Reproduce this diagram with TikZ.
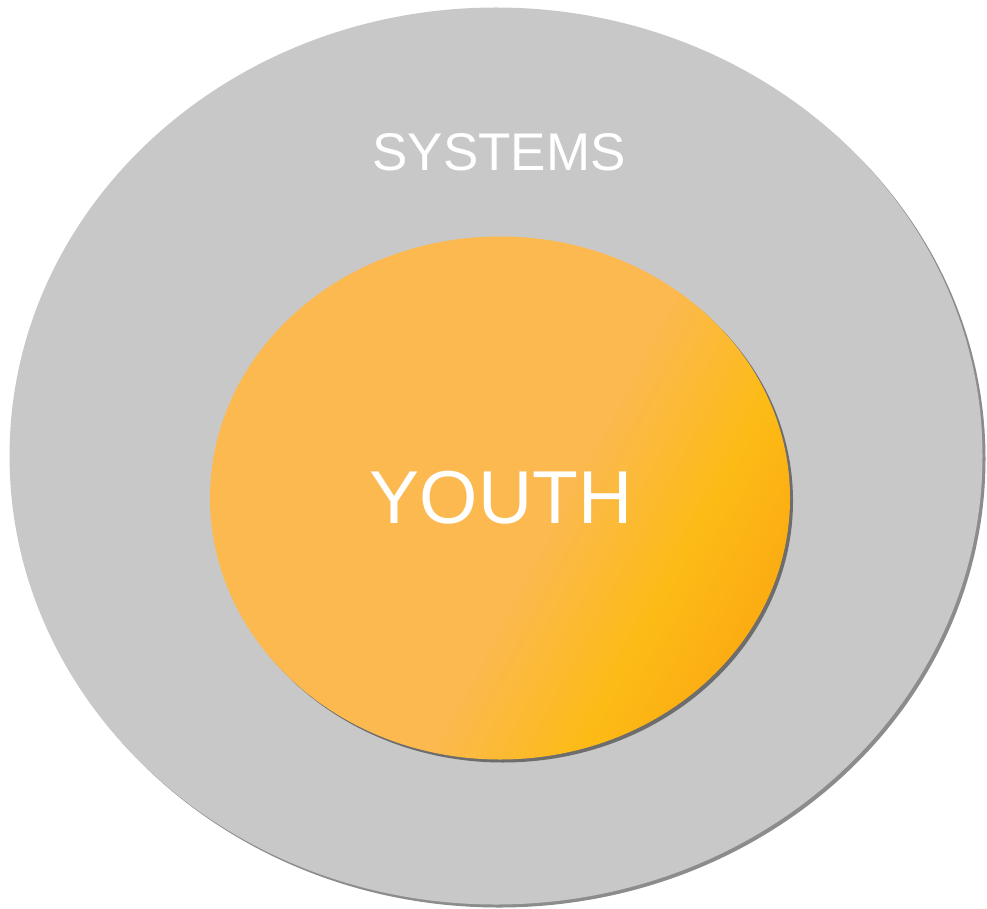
\documentclass[tikz,border=0pt]{standalone}
\usepackage{fontspec}
\setmainfont{Liberation Sans}
\usetikzlibrary{shapes.geometric,shadows}
\definecolor{sysgray}{RGB}{200,200,200}
\definecolor{ylight}{RGB}{251,185,80}
\definecolor{ymid}{RGB}{253,187,22}
\definecolor{ydark}{RGB}{250,164,16}
\pgfdeclarehorizontalshading{youthshade}{100bp}{color(0bp)=(ylight); color(55bp)=(ylight); color(67bp)=(ymid); color(80bp)=(ydark); color(100bp)=(ydark)}
\tikzset{
  softshadow/.style={drop shadow={shadow xshift=3pt, shadow yshift=-3pt, fill=black, opacity=0.45}},
  outerell/.style={ellipse, fill=sysgray, inner sep=0pt, softshadow},
  innerell/.style={ellipse, shading=youthshade, shading angle=-28, inner sep=0pt, softshadow},
  lbl/.style={text=white, inner sep=0pt}
}
\begin{document}
\begin{tikzpicture}[x=1pt,y=-1pt]
\useasboundingbox (0,0) rectangle (987,909);
\node (systems) [outerell, minimum width=973pt, minimum height=897pt] at (496,456) {};
\node (youth) [innerell, minimum width=580pt, minimum height=523pt] at (500,498) {};
\node (systemslbl) [lbl, font=\fontsize{53}{64}\selectfont] at (499,152) {SYSTEMS};
\node (youthlbl) [lbl, font=\fontsize{75}{90}\selectfont] at (501,498) {YOUTH};
\end{tikzpicture}
\end{document}
